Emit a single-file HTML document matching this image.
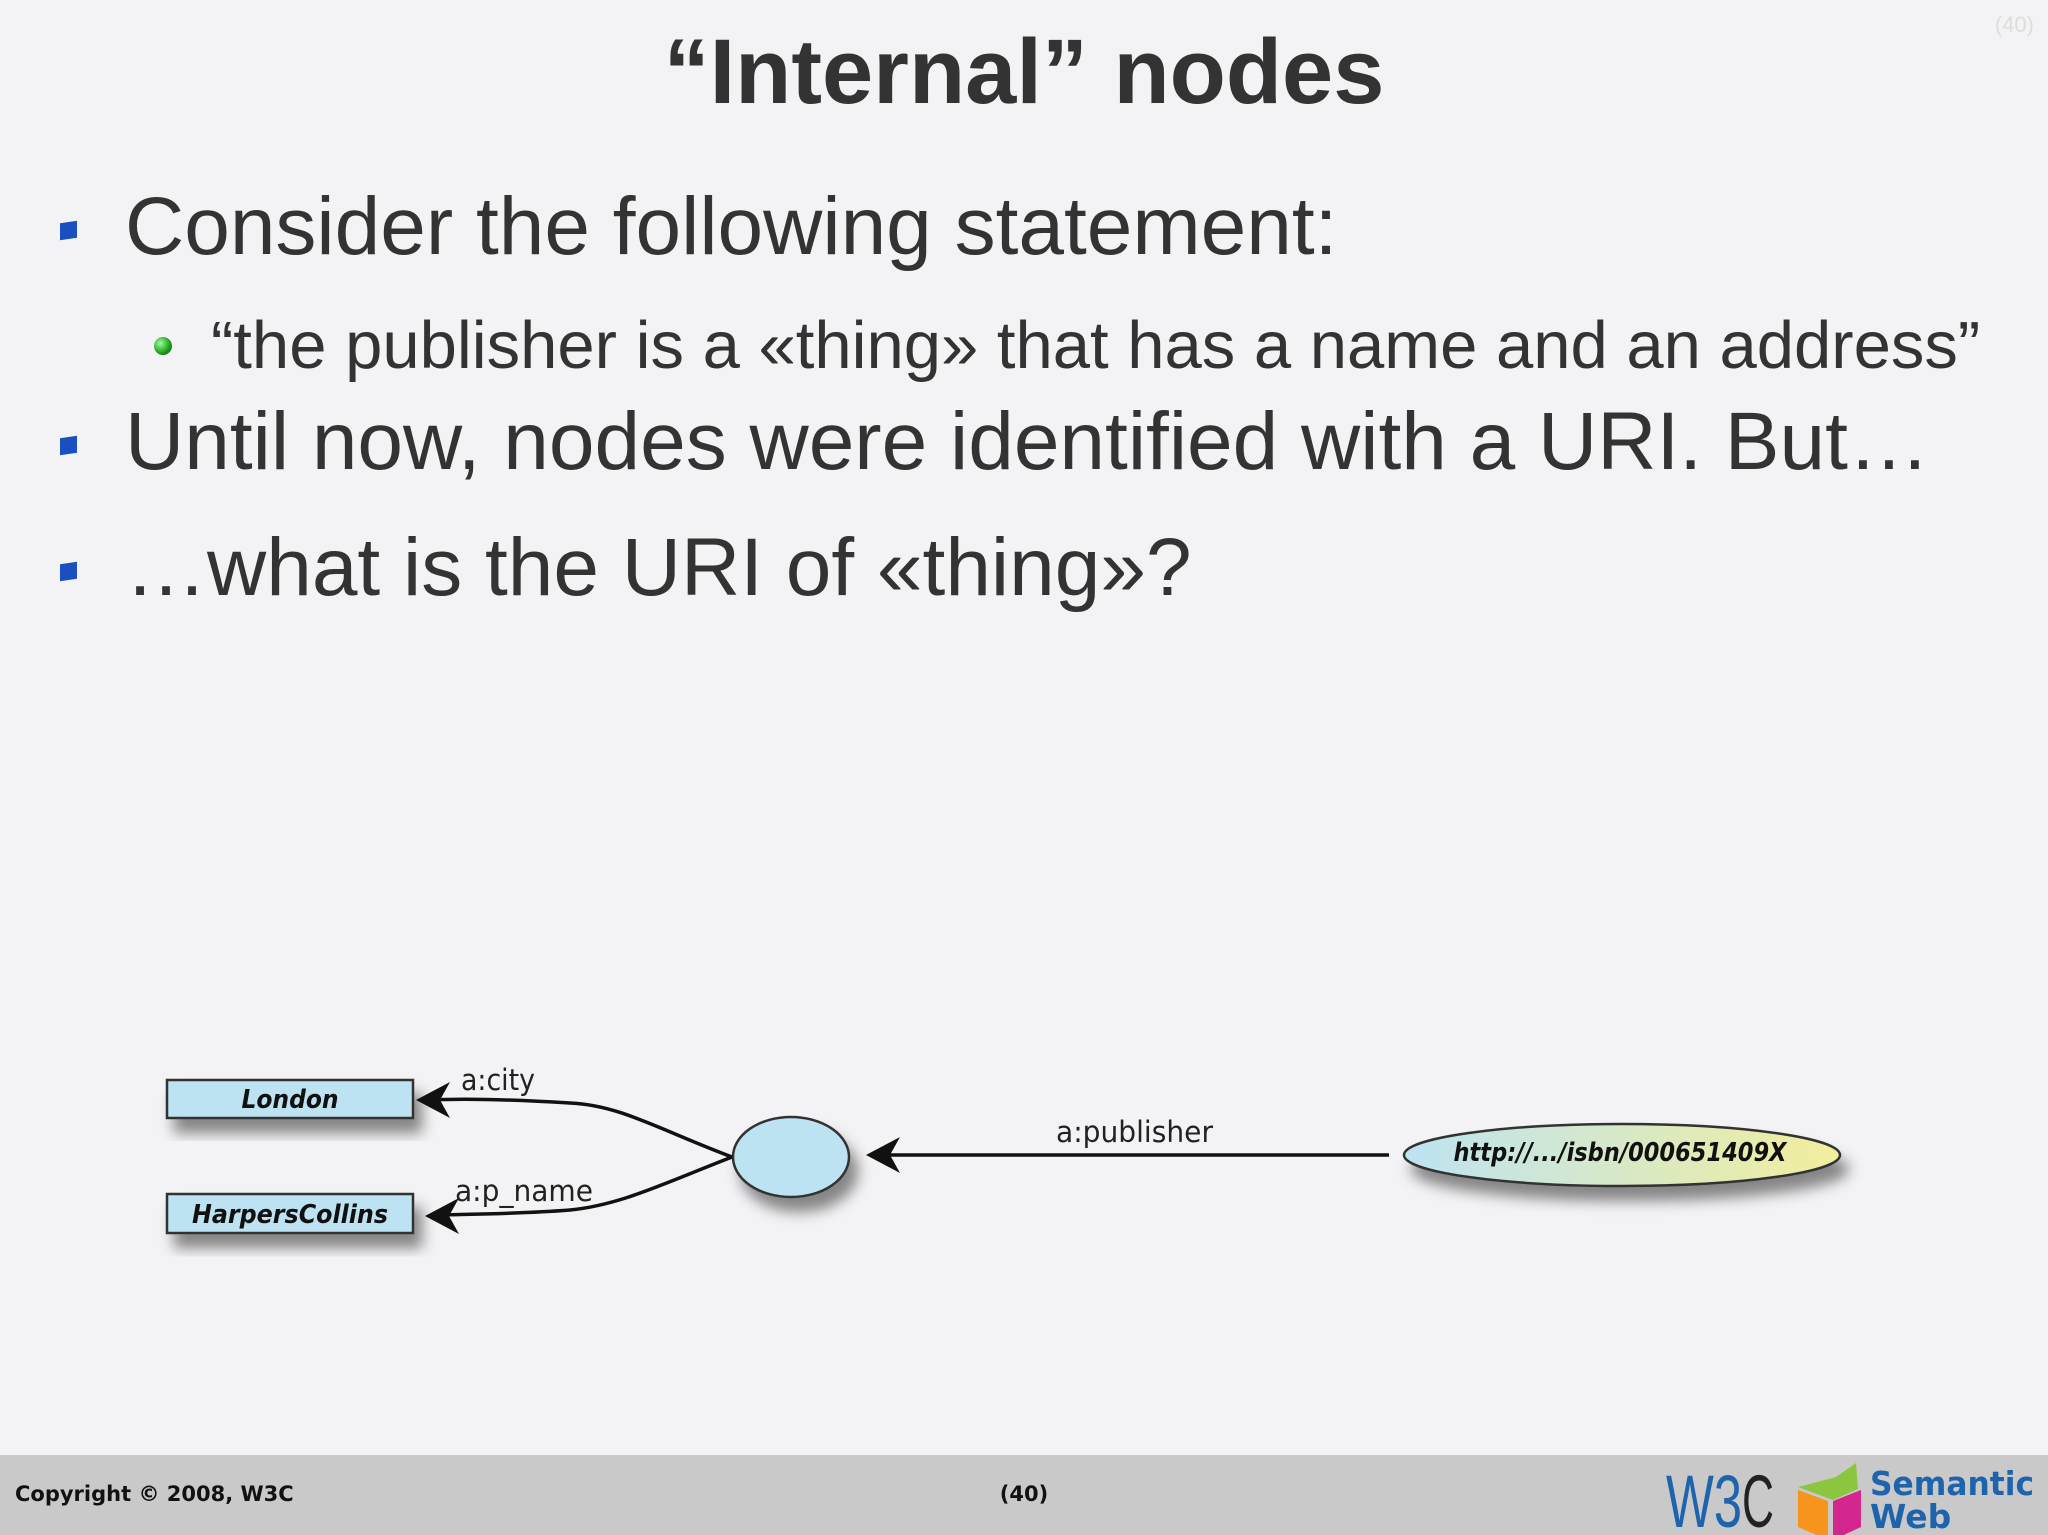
<!DOCTYPE html>
<html><head><meta charset="utf-8"><style>
body{margin:0;width:2048px;height:1535px;background:#f3f3f5;position:relative;overflow:hidden;font-family:"Liberation Sans",sans-serif;color:#333}
.t{position:absolute;white-space:nowrap}
</style></head><body>
<div class="t" style="left:0;width:2048px;text-align:center;top:20px;font-size:92px;font-weight:bold;color:#333">“Internal” nodes</div>
<div class="t" style="right:14px;top:12px;font-size:22px;color:#ddd">(40)</div>
<div style="position:absolute;left:60px;top:222px;width:17px;height:17px;background:#1a4fc0;transform:skewY(-8deg)"></div>
<div class="t" style="left:125px;top:180px;font-size:82px">Consider the following statement:</div>
<div style="position:absolute;left:154px;top:337px;width:18px;height:18px;border-radius:50%;background:radial-gradient(circle at 35% 35%,#9f9,#1a9a1a 60%,#0a5a0a)"></div>
<div class="t" style="left:211px;top:307px;font-size:67px">“the publisher is a «thing» that has a name and an address”</div>
<div style="position:absolute;left:60px;top:437px;width:17px;height:17px;background:#1a4fc0;transform:skewY(-8deg)"></div>
<div class="t" style="left:125px;top:395px;font-size:82px">Until now, nodes were identified with a URI. But…</div>
<div style="position:absolute;left:60px;top:563px;width:17px;height:17px;background:#1a4fc0;transform:skewY(-8deg)"></div>
<div class="t" style="left:125px;top:521px;font-size:82px">…what is the URI of «thing»?</div>

<svg width="2048" height="1535" style="position:absolute;left:0;top:0">
<defs>
<linearGradient id="g" x1="0" x2="1"><stop offset="0" stop-color="#bde3f2"/><stop offset="1" stop-color="#f2ee9c"/></linearGradient>
<filter id="s" x="-20%" y="-20%" width="150%" height="180%"><feDropShadow dx="8" dy="14" stdDeviation="7" flood-color="#000" flood-opacity="0.45"/></filter>
</defs>
<rect x="167" y="1080" width="246" height="38" fill="#bde3f2" stroke="#333" stroke-width="2.5" filter="url(#s)"/>
<rect x="167" y="1194" width="246" height="39" fill="#bde3f2" stroke="#333" stroke-width="2.5" filter="url(#s)"/>
<ellipse cx="791" cy="1157" rx="58" ry="40" fill="#bde3f2" stroke="#333" stroke-width="2.5" filter="url(#s)"/>
<ellipse cx="1622" cy="1155" rx="218" ry="31" fill="url(#g)" stroke="#333" stroke-width="2.5" filter="url(#s)"/>
<g fill="none" stroke="#111" stroke-width="3.5">
<path d="M732 1157 C660 1130 620 1105 570 1103 C520 1100 470 1098 430 1100"/>
<path d="M732 1157 C660 1185 620 1205 570 1210 C520 1214 470 1214 438 1215"/>
<path d="M1389 1155 L885 1155"/>
</g>
<g fill="#111">
<polygon points="416,1100 450,1082 440,1100 450,1118"/>
<polygon points="425,1216 459,1198 449,1216 459,1234"/>
<polygon points="866,1155 900,1137 890,1155 900,1173"/>
</g>
<g font-family="DejaVu Sans Condensed,Liberation Sans Narrow,sans-serif" font-size="29" fill="#222">
<text x="461" y="1090" textLength="74" lengthAdjust="spacingAndGlyphs">a:city</text>
<text x="455" y="1201" textLength="138" lengthAdjust="spacingAndGlyphs">a:p_name</text>
<text x="1056" y="1142" textLength="157" lengthAdjust="spacingAndGlyphs">a:publisher</text>
</g>
<g font-family="DejaVu Sans Condensed,sans-serif" font-size="26" font-style="italic" font-weight="bold" fill="#111" text-anchor="middle">
<text x="290" y="1108">London</text>
<text x="290" y="1223" textLength="196" lengthAdjust="spacingAndGlyphs">HarpersCollins</text>
<text x="1620" y="1161" textLength="333" lengthAdjust="spacingAndGlyphs">http://.../isbn/000651409X</text>
</g>
</svg>

<div style="position:absolute;left:0;top:1455px;width:2048px;height:80px;background:#c9c9c9"></div>
<div class="t" style="left:15px;top:1482px;font-size:21px;font-weight:bold;font-family:'DejaVu Sans',sans-serif;color:#111">Copyright © 2008, W3C</div>
<div class="t" style="left:0;width:2048px;text-align:center;top:1482px;font-size:21px;font-weight:bold;font-family:'DejaVu Sans',sans-serif;color:#111">(40)</div>
<svg width="400" height="80" style="position:absolute;left:1648px;top:1455px">
<text x="18" y="72" font-family="Liberation Sans Narrow,sans-serif" font-size="74" fill="#1d64ac" textLength="76" lengthAdjust="spacingAndGlyphs">W3</text>
<text x="94" y="72" font-family="Liberation Sans Narrow,sans-serif" font-size="74" fill="#222" textLength="32" lengthAdjust="spacingAndGlyphs">C</text>
<polygon points="150,32 188,22 208,8 210,34 185,45" fill="#8cc63f"/>
<polygon points="150,35 180,46 180,85 150,72" fill="#f7941d"/>
<polygon points="185,46 213,35 213,72 185,85" fill="#d4268f"/>
<text x="222" y="40" font-family="DejaVu Sans,sans-serif" font-weight="bold" font-size="33" fill="#1d64ac" textLength="164" lengthAdjust="spacingAndGlyphs">Semantic</text>
<text x="222" y="73" font-family="DejaVu Sans,sans-serif" font-weight="bold" font-size="33" fill="#1d64ac">Web</text>
</svg>
</body></html>
